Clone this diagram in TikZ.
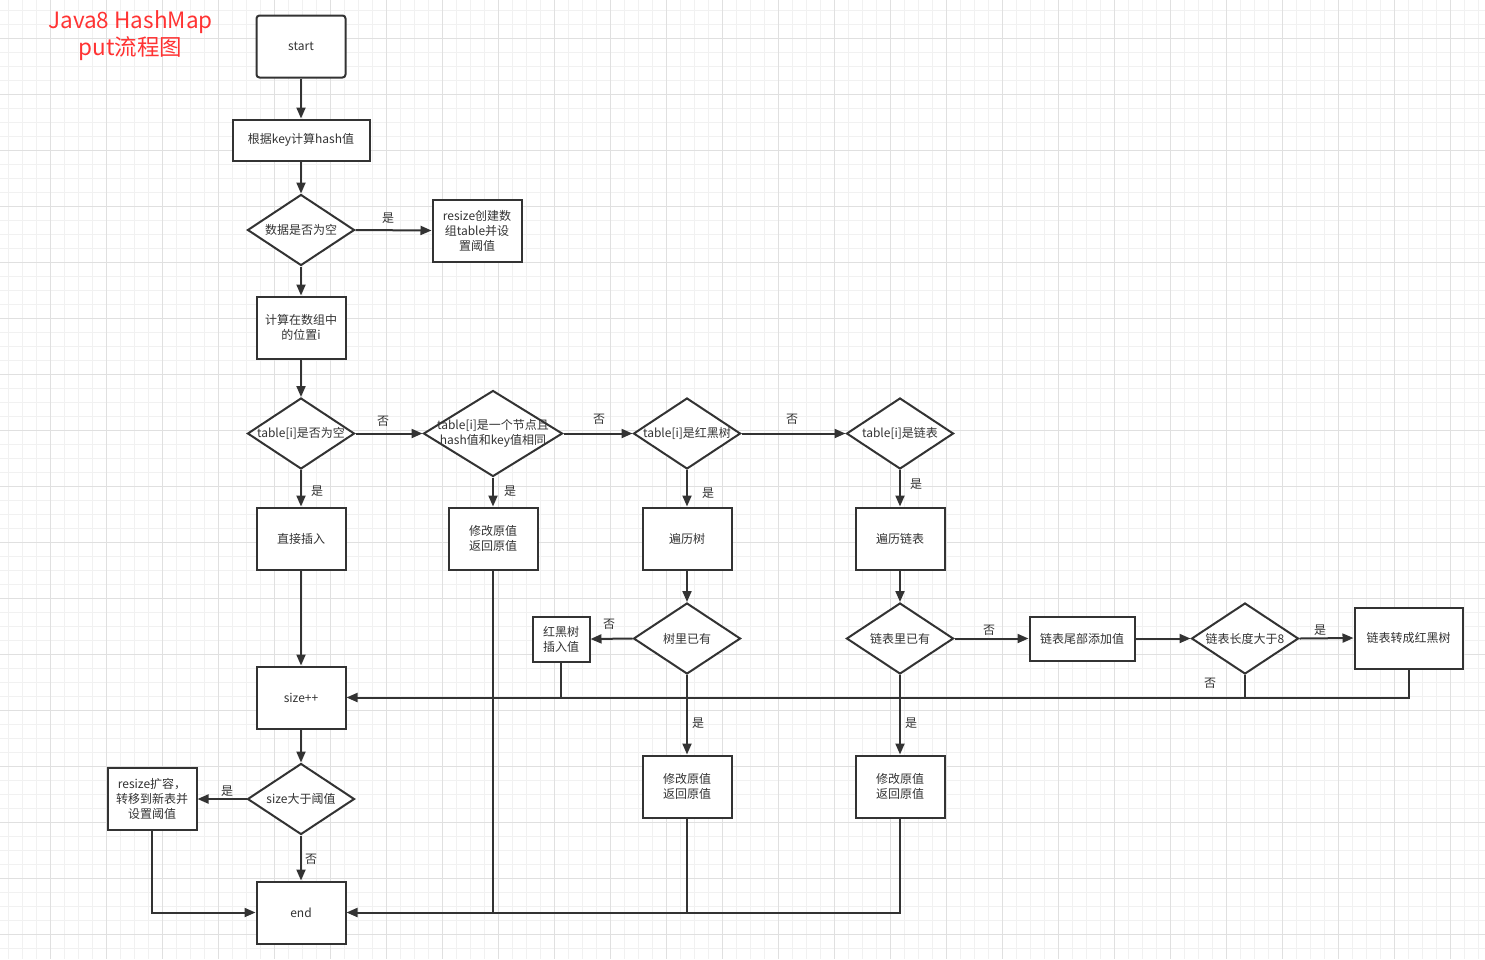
\documentclass[tikz,border=0pt]{standalone}
\usepackage{fontspec}
\newfontfamily\cjk{Noto Sans CJK SC}
\usetikzlibrary{shapes.geometric,arrows.meta}
\definecolor{ink}{HTML}{333333}
\definecolor{gridminor}{HTML}{F1F1F1}
\definecolor{gridmajor}{HTML}{E0E0E0}
\definecolor{titlered}{HTML}{FF3333}
\begin{document}
\begin{tikzpicture}[x=1pt,y=-1pt,
  txt/.style={font=\cjk\fontsize{12}{15}\selectfont, text=ink, align=center},
  box/.style={draw=ink, line width=2pt, fill=white, inner sep=0pt,
    minimum width=89, minimum height=62, txt},
  dia/.style={draw=ink, line width=2pt, fill=white, diamond, inner sep=0pt,
    minimum width=107, minimum height=71},
  conn/.style={draw=ink, line width=2pt, -{Triangle[length=11pt,width=9pt]}},
  plain/.style={draw=ink, line width=2pt},
  lab/.style={txt}
]
\useasboundingbox (0,0) rectangle (1485,959);
\fill[white] (0,0) rectangle (1485,959);
\foreach \x in {8,22,...,1485} \draw[gridminor, line width=1pt] (\x,0) -- (\x,959);
\foreach \y in {10,24,...,959} \draw[gridminor, line width=1pt] (0,\y) -- (1485,\y);
\foreach \x in {50,106,...,1485} \draw[gridmajor, line width=1pt] (\x,0) -- (\x,959);
\foreach \y in {38,94,...,959} \draw[gridmajor, line width=1pt] (0,\y) -- (1485,\y);

\node[font=\cjk\fontsize{22.5}{27}\selectfont, text=titlered, align=center] (title) at (130.5,36) {Java8 HashMap\\put流程图};

% main column
\node[box, rounded corners=3pt] (start) at (301,46.5) {start};
\node[box, minimum width=137, minimum height=41] (hash) at (301,140) {根据key计算hash值};
\node[dia, label={[txt]center:数据是否为空}] (empty) at (301,230) {};
\node[box] (resizeA) at (477,230.5) {resize创建数\\组table并设\\置阈值};
\node[box] (pos) at (301,327.5) {计算在数组中\\的位置i};
\node[dia, label={[txt]center:table[i]是否为空}] (tnull) at (301,433.5) {};
\node[dia, minimum width=139, minimum height=86, label={[txt]center:table[i]是一个节点且\\hash值和key值相同}] (same) at (493,433.5) {};
\node[dia, label={[txt]center:table[i]是红黑树}] (isTree) at (687,433.5) {};
\node[dia, label={[txt]center:table[i]是链表}] (isList) at (900,433.5) {};

\node[box] (insert) at (301,538.5) {直接插入};
\node[box] (modA) at (493,538.5) {修改原值\\返回原值};
\node[box] (walkTree) at (687,538.5) {遍历树};
\node[box] (walkList) at (900,538.5) {遍历链表};

\node[dia, label={[txt]center:树里已有}] (treeHas) at (687,638.5) {};
\node[box, minimum width=57, minimum height=45] (rbIns) at (561,639) {红黑树\\插入值};
\node[dia, label={[txt]center:链表里已有}] (listHas) at (900,638.5) {};
\node[box, minimum width=105, minimum height=44] (tail) at (1082,638.5) {链表尾部添加值};
\node[dia, label={[txt]center:链表长度大于8}] (len8) at (1245,638.5) {};
\node[box, minimum width=108, minimum height=61] (toTree) at (1408.5,638) {链表转成红黑树};

\node[box] (size) at (301,697.5) {size++};
\node[box] (modB) at (687,786.5) {修改原值\\返回原值};
\node[box] (modC) at (900,786.5) {修改原值\\返回原值};
\node[dia, label={[txt]center:size大于阈值}] (big) at (301,799) {};
\node[box] (resizeB) at (152,799) {resize扩容，\\转移到新表并\\设置阈值};
\node[box] (end) at (301,912.5) {end};

% connectors
\draw[conn] (start) -- (hash);
\draw[conn] (hash) -- (empty);
\draw[conn] (empty.east) -- (resizeA.west);
\draw[conn] (empty.south) -- (pos.north);
\draw[conn] (pos.south) -- (tnull.north);
\draw[conn] (tnull.east) -- (same.west);
\draw[conn] (same.east) -- (isTree.west);
\draw[conn] (isTree.east) -- (isList.west);
\draw[conn] (tnull.south) -- (insert.north);
\draw[conn] (same.south) -- (modA.north);
\draw[conn] (isTree.south) -- (walkTree.north);
\draw[conn] (isList.south) -- (walkList.north);
\draw[conn] (walkTree.south) -- (treeHas.north);
\draw[conn] (walkList.south) -- (listHas.north);
\draw[conn] (treeHas.west) -- (rbIns.east);
\draw[conn] (treeHas.south) -- (modB.north);
\draw[conn] (listHas.south) -- (modC.north);
\draw[conn] (listHas.east) -- (tail.west);
\draw[conn] (tail.east) -- (len8.west);
\draw[conn] (len8.east) -- (toTree.west);
\draw[conn] (toTree.south) |- (size.east);
\draw[plain] (len8.south) -- (len8.south |- size.east);
\draw[plain] (rbIns.south) -- (rbIns.south |- size.east);
\draw[conn] (insert.south) -- (size.north);
\draw[conn] (size.south) -- (big.north);
\draw[conn] (big.west) -- (resizeB.east);
\draw[conn] (big.south) -- (end.north);
\draw[conn] (resizeB.south) |- (end.west);
\draw[conn] (modC.south) |- (end.east);
\draw[plain] (modB.south) -- (modB.south |- end.east);
\draw[plain] (modA.south) -- (modA.south |- end.east);

% branch labels
\node[lab] (l1) at (388,218) {是};
\node[lab] (l2) at (383,421) {否};
\node[lab] (l3) at (599,419) {否};
\node[lab] (l4) at (792,419) {否};
\node[lab] (l5) at (317,491) {是};
\node[lab] (l6) at (510,491) {是};
\node[lab] (l7) at (708,493) {是};
\node[lab] (l8) at (916,484) {是};
\node[lab] (l9) at (609,624) {否};
\node[lab] (l10) at (989,630) {否};
\node[lab] (l11) at (1320,630) {是};
\node[lab] (l12) at (1210,683) {否};
\node[lab] (l13) at (698,723) {是};
\node[lab] (l14) at (911,723) {是};
\node[lab] (l15) at (227,791) {是};
\node[lab] (l16) at (311,859) {否};
\end{tikzpicture}
\end{document}
